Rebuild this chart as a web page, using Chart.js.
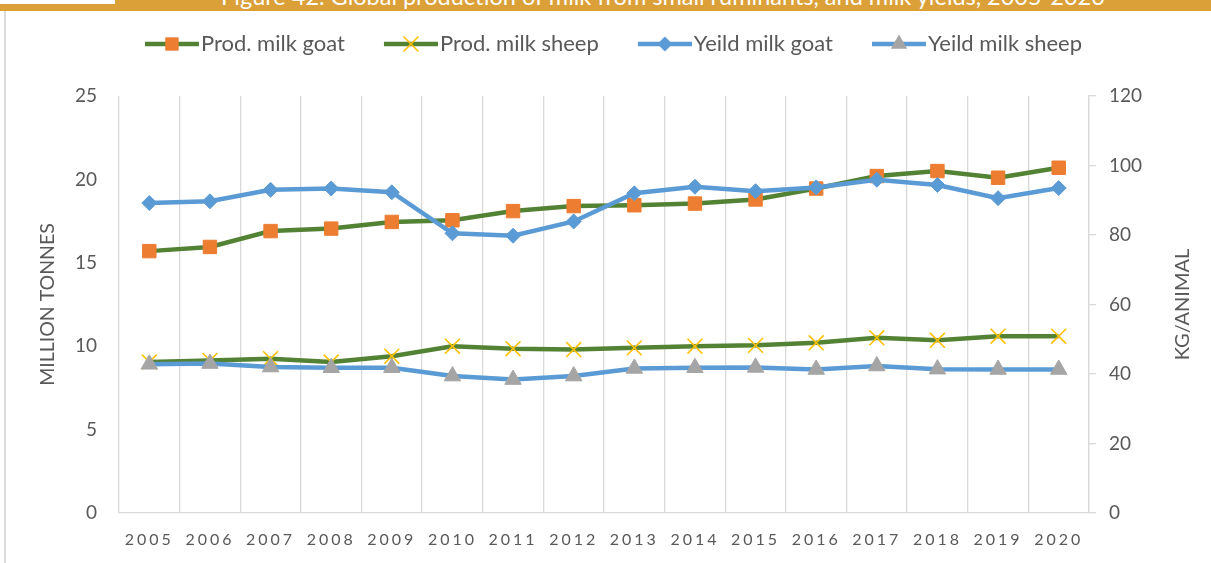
<!DOCTYPE html>
<html>
<head>
<meta charset="utf-8">
<title>Milk from small ruminants</title>
<script src="https://cdn.jsdelivr.net/npm/chart.js@4.4.1/dist/chart.umd.min.js"></script>
<style>
  html, body { margin: 0; padding: 0; background: #fff; }
  #wrap { position: relative; width: 1211px; height: 563px; overflow: hidden; background: #fff; }
  #banner { position: absolute; left: 0; top: 0; width: 1211px; height: 11px; background: #DBA038; overflow: hidden; z-index: 2; }
  #notch { position: absolute; left: 0; top: 0; width: 115px; height: 4px; background: #fff; }
  #banner span { position: absolute; left: 115px; right: 0; bottom: 2.6px; text-align: center; color: #fff;
                 font: 23.5px Lato, sans-serif; line-height: 24px; white-space: nowrap; }
  #edge { position: absolute; left: 4px; top: 11px; bottom: 0; width: 2px; background: #DCDCDC; }
  #chart { position: absolute; left: 0; top: 0; }
</style>
</head>
<body>
<div id="wrap">
  <div id="banner"><div id="notch"></div><span>Figure 42. Global production of milk from small ruminants, and milk yields, 2005-2020</span></div>
  <div id="edge"></div>
  <canvas id="chart" width="1211" height="563"></canvas>
</div>
<script>
const years = ["2005", "2006", "2007", "2008", "2009", "2010", "2011", "2012",
               "2013", "2014", "2015", "2016", "2017", "2018", "2019", "2020"];

// million tonnes (left axis)
const prodGoat  = [15.7, 15.95, 16.9, 17.05, 17.45, 17.55, 18.1, 18.4, 18.45, 18.55, 18.8, 19.45, 20.2, 20.5, 20.1, 20.7];
const prodSheep = [9.05, 9.15, 9.25, 9.05, 9.4, 10.0, 9.85, 9.8, 9.9, 10.0, 10.05, 10.2, 10.5, 10.35, 10.6, 10.6];

// kg per animal (right axis)
const yieldGoat  = [89.2, 89.7, 93.0, 93.4, 92.3, 80.5, 79.8, 83.9, 92.0, 93.9, 92.6, 93.7, 95.9, 94.4, 90.6, 93.5];
const yieldSheep = [42.8, 43.0, 42.0, 41.8, 41.8, 39.4, 38.4, 39.4, 41.6, 41.8, 41.9, 41.3, 42.3, 41.4, 41.3, 41.3];

const leftRange  = [0, 25, 5];
const rightRange = [0, 120, 20];

const GREEN = "#548235", ORANGE = "#ED7D31", YELLOW = "#FFC000", BLUE = "#5B9BD5", GREY = "#A5A5A5";
const TEXT = "#595959", GRID = "#D9D9D9";
const FONT = "Lato, 'Open Sans', sans-serif";

// small markers for the legend icons
const marks = {
  square(g, x, y) { g.fillStyle = ORANGE; g.fillRect(x - 6.7, y - 6.7, 13.4, 13.4); },
  cross(g, x, y) {
    g.strokeStyle = YELLOW; g.lineWidth = 1.6; g.beginPath();
    g.moveTo(x - 7.5, y - 7.5); g.lineTo(x + 7.5, y + 7.5);
    g.moveTo(x + 7.5, y - 7.5); g.lineTo(x - 7.5, y + 7.5); g.stroke();
  },
  diamond(g, x, y) {
    g.fillStyle = BLUE; g.beginPath();
    g.moveTo(x - 7.5, y); g.lineTo(x, y - 7.5); g.lineTo(x + 7.5, y); g.lineTo(x, y + 7.5); g.fill();
  },
  triangle(g, x, y) {
    g.fillStyle = GREY; g.beginPath();
    g.moveTo(x, y - 9.5); g.lineTo(x + 8.2, y + 4.75); g.lineTo(x - 8.2, y + 4.75); g.fill();
  }
};

function legendIcon(color, mark) {
  const c = document.createElement("canvas");
  c.width = 69; c.height = 22;
  const g = c.getContext("2d");
  g.strokeStyle = color; g.lineWidth = 4.5;
  g.beginPath(); g.moveTo(15, 11); g.lineTo(69, 11); g.stroke();
  mark(g, 42, 11);
  return c;
}

const icons = [
  legendIcon(GREEN, marks.square),
  legendIcon(GREEN, marks.cross),
  legendIcon(BLUE, marks.diamond),
  legendIcon(BLUE, marks.triangle)
];

// wider spacing between the digits of the year labels
const spacedTicks = {
  id: "spacedTicks",
  afterLayout(chart) {
    const sc = chart.scales.x;
    if (sc._spaced) return;
    const draw = sc.drawLabels;
    sc.drawLabels = function (area) {
      this.ctx.save();
      this.ctx.letterSpacing = "3px";
      draw.call(this, area);
      this.ctx.restore();
    };
    sc._spaced = true;
  }
};

// right axis title reads bottom to top
const rightTitle = {
  id: "rightTitle",
  afterDraw(chart) {
    const { ctx, chartArea } = chart;
    ctx.save();
    ctx.translate(1183, (chartArea.top + chartArea.bottom) / 2);
    ctx.rotate(-Math.PI / 2);
    ctx.font = "20px " + FONT;
    ctx.fillStyle = TEXT;
    ctx.textAlign = "center";
    ctx.textBaseline = "middle";
    ctx.fillText("KG/ANIMAL", 0, 0);
    ctx.restore();
  }
};

const line = { borderWidth: 4.5, tension: 0, fill: false };

new Chart(document.getElementById("chart"), {
  type: "line",
  data: {
    labels: years,
    datasets: [
      { ...line, label: "Prod. milk goat", data: prodGoat, yAxisID: "y", order: 4,
        borderColor: GREEN, backgroundColor: ORANGE,
        pointStyle: "rect", pointRadius: 9.5, pointBackgroundColor: ORANGE, pointBorderColor: ORANGE, pointBorderWidth: 1 },
      { ...line, label: "Prod. milk sheep", data: prodSheep, yAxisID: "y", order: 3,
        borderColor: GREEN, backgroundColor: YELLOW,
        pointStyle: "crossRot", pointRadius: 10.5, pointBorderColor: YELLOW, pointBorderWidth: 1.6 },
      { ...line, label: "Yeild milk goat", data: yieldGoat, yAxisID: "y2", order: 2,
        borderColor: BLUE, backgroundColor: BLUE,
        pointStyle: "rectRot", pointRadius: 7.5, pointBackgroundColor: BLUE, pointBorderColor: BLUE, pointBorderWidth: 1 },
      { ...line, label: "Yeild milk sheep", data: yieldSheep, yAxisID: "y2", order: 1,
        borderColor: BLUE, backgroundColor: GREY,
        pointStyle: "triangle", pointRadius: 9.5, pointBackgroundColor: GREY, pointBorderColor: GREY, pointBorderWidth: 1 }
    ]
  },
  options: {
    responsive: false,
    animation: false,
    events: [],
    layout: { padding: { left: 10, top: 0, right: 0, bottom: 0 } },
    plugins: {
      tooltip: { enabled: false },
      // empty title used as a gap between the legend and the plot
      title: { display: true, text: "", weight: 500, font: { size: 10 }, padding: { top: 0, bottom: 19 } },
      legend: {
        position: "top",
        labels: {
          usePointStyle: true,
          pointStyleWidth: 51,
          padding: 33,
          color: TEXT,
          font: { family: FONT, size: 22 },
          sort: (a, b) => a.datasetIndex - b.datasetIndex,
          generateLabels(chart) {
            return chart.data.datasets.map((ds, i) => ({
              text: ds.label, datasetIndex: i, pointStyle: icons[i],
              fontColor: TEXT, hidden: false, lineWidth: 0, strokeStyle: "transparent", fillStyle: "transparent"
            }));
          }
        }
      }
    },
    scales: {
      x: {
        offset: true,
        grid: { offset: true, color: GRID, lineWidth: 1.3, drawTicks: false },
        border: { color: GRID, width: 1.3 },
        ticks: { color: TEXT, font: { family: FONT, size: 16 }, padding: 17, maxRotation: 0, autoSkip: false },
        afterFit(s) { s.height = 50; }
      },
      y: {
        position: "left",
        min: leftRange[0], max: leftRange[1],
        ticks: { stepSize: leftRange[2], color: TEXT, font: { family: FONT, size: 19 }, padding: 22 },
        grid: { display: false, drawTicks: false },
        border: { display: false },
        title: { display: true, text: "MILLION TONNES", color: TEXT, font: { family: FONT, size: 19.5 }, padding: { top: 26 } },
        afterFit(s) { s.width = 109; }
      },
      y2: {
        position: "right",
        min: rightRange[0], max: rightRange[1],
        ticks: { stepSize: rightRange[2], color: TEXT, font: { family: FONT, size: 19 }, padding: 13 },
        grid: { drawOnChartArea: false, color: GRID, lineWidth: 1.3, tickLength: 7 },
        border: { color: GRID, width: 1.3 },
        afterFit(s) { s.width = 122; }
      }
    }
  },
  plugins: [spacedTicks, rightTitle]
});
</script>
</body>
</html>
